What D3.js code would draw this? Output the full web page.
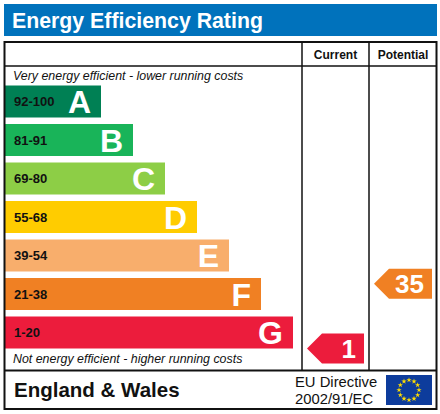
<!DOCTYPE html>
<html>
<head>
<meta charset="utf-8">
<script src="https://cdn.jsdelivr.net/npm/d3@7"></script>
<style>
  html, body { margin: 0; padding: 0; background: #fff; }
  svg { display: block; font-family: "Liberation Sans", Arial, sans-serif; }
</style>
</head>
<body>
<svg id="chart" width="440" height="414"></svg>
<script>
// rating bands, top (best) to bottom (worst)
const letters = ['A', 'B', 'C', 'D', 'E', 'F', 'G'];
const ranges = ['92-100', '81-91', '69-80', '55-68', '39-54', '21-38', '1-20'];
const bandMin = [92, 81, 69, 55, 39, 21, 1];
const bandMax = [100, 91, 80, 68, 54, 38, 20];
const colors = ['#008054', '#19b459', '#8dce46', '#ffcc00', '#f8ae6c', '#f08023', '#ec1c3c'];

const columns = ['Current', 'Potential'];
const ratings = [1, 35];

const svg = d3.select('#chart');

// title bar
svg.append('rect')
  .attr('x', 4).attr('y', 4).attr('width', 433).attr('height', 32)
  .attr('fill', '#0072bc');
svg.append('text')
  .attr('x', 12).attr('y', 27.5)
  .attr('fill', '#fff').attr('font-weight', 'bold').attr('font-size', 21.3)
  .text('Energy Efficiency Rating');

// layout
const left = 5, tableTop = 42, headBottom = 66, bodyBottom = 370.5, tableBottom = 409;
const colX = [302, 369, 437];

const y = d3.scaleBand()
  .domain(letters)
  .range([85.5, 348.5])
  .paddingInner(6.5 / 38.5)
  .paddingOuter(0);

const w = d3.scaleLinear()
  .domain([0, letters.length - 1])
  .range([96, 288]);

// bars
const rows = svg.append('g').selectAll('g')
  .data(letters)
  .join('g')
  .attr('transform', d => `translate(${left},${y(d)})`);

rows.append('rect')
  .attr('width', (d, i) => w(i))
  .attr('height', y.bandwidth())
  .attr('fill', (d, i) => colors[i]);

rows.append('text')
  .attr('x', 9)
  .attr('y', y.bandwidth() / 2 + 4.5)
  .attr('font-size', 13).attr('font-weight', 'bold')
  .attr('fill', '#111')
  .text((d, i) => ranges[i]);

rows.append('text')
  .attr('x', (d, i) => w(i) - 10)
  .attr('y', y.bandwidth() / 2 + 11.5)
  .attr('text-anchor', 'end')
  .attr('font-size', 32).attr('font-weight', 'bold')
  .attr('fill', '#fff')
  .text(d => d);

// captions
svg.append('text')
  .attr('x', 13).attr('y', 80)
  .attr('font-size', 12.4).attr('font-style', 'italic').attr('fill', '#111')
  .text('Very energy efficient - lower running costs');
svg.append('text')
  .attr('x', 13).attr('y', 363)
  .attr('font-size', 12.4).attr('font-style', 'italic').attr('fill', '#111')
  .text('Not energy efficient - higher running costs');

// rating arrows
function rowOf(v) {
  return bandMin.findIndex((m, i) => v >= m && v <= bandMax[i]);
}

const arrowH = 30, tip = 15;
columns.forEach((name, c) => {
  const v = ratings[c];
  const r = rowOf(v);
  const cy = d3.scaleLinear()
    .domain([bandMax[r], bandMin[r]])
    .range([y(letters[r]), y(letters[r]) + y.bandwidth()])(v);
  const x0 = colX[c] + 5, x1 = colX[c + 1] - 5;
  const top = cy - arrowH / 2, bot = cy + arrowH / 2;
  svg.append('path')
    .attr('d', `M${x0},${cy} L${x0 + tip},${top} L${x1},${top} L${x1},${bot} L${x0 + tip},${bot} Z`)
    .attr('fill', colors[r]);
  svg.append('text')
    .attr('x', x1 - 8)
    .attr('y', cy + 9.5)
    .attr('text-anchor', 'end')
    .attr('font-size', 26).attr('font-weight', 'bold')
    .attr('fill', '#fff')
    .text(v);
});

// table lines
const lines = svg.append('g').attr('stroke', '#111').attr('fill', 'none');
lines.append('rect')
  .attr('x', 4.5).attr('y', tableTop).attr('width', 432).attr('height', tableBottom - tableTop)
  .attr('stroke-width', 2);
lines.append('line')
  .attr('x1', 4.5).attr('x2', 436.5).attr('y1', headBottom).attr('y2', headBottom)
  .attr('stroke-width', 1.5);
lines.append('line')
  .attr('x1', 4.5).attr('x2', 436.5).attr('y1', bodyBottom).attr('y2', bodyBottom)
  .attr('stroke-width', 2);
colX.slice(0, 2).forEach(x => {
  lines.append('line')
    .attr('x1', x).attr('x2', x).attr('y1', tableTop).attr('y2', bodyBottom)
    .attr('stroke-width', 1.5);
});

// column headers
columns.forEach((name, c) => {
  svg.append('text')
    .attr('x', (colX[c] + colX[c + 1]) / 2).attr('y', 58.5)
    .attr('text-anchor', 'middle')
    .attr('font-size', 12).attr('font-weight', 'bold').attr('fill', '#111')
    .text(name);
});

// footer
svg.append('text')
  .attr('x', 14).attr('y', 397)
  .attr('font-size', 20.5).attr('font-weight', 'bold').attr('fill', '#111')
  .text('England & Wales');
svg.append('text')
  .attr('x', 295).attr('y', 387)
  .attr('font-size', 14.8).attr('fill', '#111')
  .text('EU Directive');
svg.append('text')
  .attr('x', 295).attr('y', 403.5)
  .attr('font-size', 14.8).attr('fill', '#111')
  .text('2002/91/EC');

// EU flag
const flag = svg.append('g').attr('transform', 'translate(386,375)');
flag.append('rect').attr('width', 46).attr('height', 30).attr('fill', '#0d3c9c');
const star = d3.symbol().type(d3.symbolStar).size(9);
flag.selectAll('path')
  .data(d3.range(12))
  .join('path')
  .attr('d', star)
  .attr('fill', '#ffdd00')
  .attr('transform', i => {
    const a = i / 12 * 2 * Math.PI;
    return `translate(${23 + 10 * Math.sin(a)},${15 - 10 * Math.cos(a)})`;
  });
</script>
</body>
</html>
